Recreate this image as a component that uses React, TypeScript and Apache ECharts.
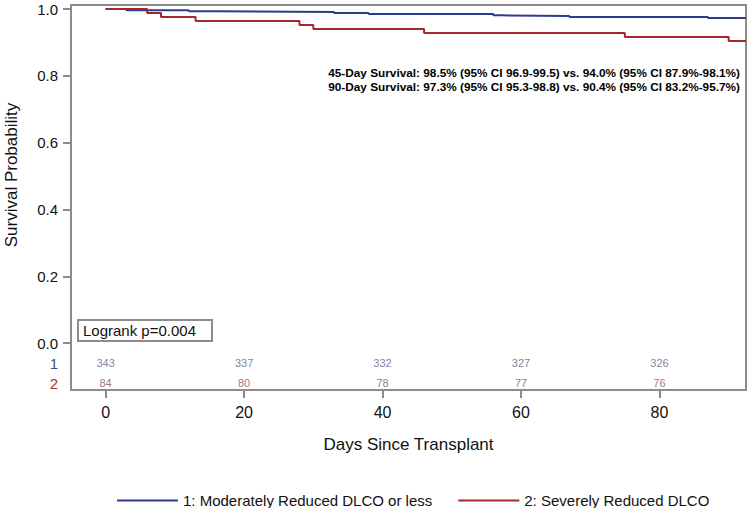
import React, { useEffect, useRef } from "react";
import * as echarts from "echarts";

// Kaplan-Meier step data [day, survival]
const group1Curve: [number, number][] = [
  [0, 1.0], [3, 0.996], [12, 0.993], [16, 0.991], [33, 0.988], [38, 0.985],
  [56, 0.981], [57, 0.979], [67, 0.976], [87, 0.973], [92.5, 0.973],
];
const group2Curve: [number, number][] = [
  [0, 1.0], [6, 0.988], [8, 0.976], [13, 0.964], [28, 0.952], [30, 0.94],
  [46, 0.928], [75, 0.916], [90, 0.904], [92.5, 0.904],
];
const seriesNames = ["1: Moderately Reduced DLCO or less", "2: Severely Reduced DLCO"];
const riskDays = [0, 20, 40, 60, 80];
const riskGroup1 = [343, 337, 332, 327, 326];
const riskGroup2 = [84, 80, 78, 77, 76];
const riskRowLabels = ["1", "2"];
const riskRowY = [-0.06, -0.12];
const yTicks = [0, 0.2, 0.4, 0.6, 0.8, 1.0];
const xTicks = [0, 20, 40, 60, 80];
const annotationLines = [
  "45-Day Survival: 98.5% (95% CI 96.9-99.5) vs. 94.0% (95% CI 87.9%-98.1%)",
  "90-Day Survival: 97.3% (95% CI 95.3-98.8) vs. 90.4% (95% CI 83.2%-95.7%)",
];
const logrankText = "Logrank p=0.004";

const BLUE = "#2e3a8c";
const RED = "#a3282a";
const GRAY = "#8c8c8c";
const FONT = "'Liberation Sans', Arial, sans-serif";

export default function App() {
  const ref = useRef<HTMLDivElement>(null);
  useEffect(() => {
    if (!ref.current) return;
    const chart = echarts.init(ref.current, undefined, { renderer: "svg" });
    const riskData1 = riskDays.map((d, i) => [d, riskRowY[0], riskGroup1[i]]);
    const riskData2 = riskDays.map((d, i) => [d, riskRowY[1], riskGroup2[i]]);
    chart.setOption({
      animation: false,
      textStyle: { fontFamily: FONT },
      grid: {
        left: 71, right: 4, top: 5, bottom: 118,
        show: true, borderColor: GRAY, borderWidth: 2, backgroundColor: "transparent",
      },
      legend: {
        left: 112, top: 488,
        itemWidth: 61, itemHeight: 2, itemGap: 26,
        icon: "rect",
        textStyle: { fontSize: 15, color: "#111", fontFamily: FONT },
        data: seriesNames,
      },
      xAxis: {
        type: "value", min: -5, max: 92.5,
        name: "Days Since Transplant", nameLocation: "middle", nameGap: 46,
        nameTextStyle: { fontSize: 17, color: "#111" },
        axisLine: { show: true, onZero: false, lineStyle: { color: GRAY, width: 2 } },
        axisTick: { show: true, length: 8, customValues: xTicks, lineStyle: { color: GRAY, width: 2 } },
        axisLabel: { customValues: xTicks, margin: 14, fontSize: 16, color: "#111" },
        splitLine: { show: false },
      },
      yAxis: {
        type: "value", min: -0.14, max: 1.012,
        axisLine: { show: true, onZero: false, lineStyle: { color: GRAY, width: 2 } },
        axisTick: { show: true, length: 8, customValues: yTicks, lineStyle: { color: GRAY, width: 2 } },
        axisLabel: {
          customValues: [...yTicks, ...riskRowY],
          margin: 13, fontSize: 15, color: "#111",
          formatter: (v: number) => {
            const idx = riskRowY.findIndex((r) => Math.abs(r - v) < 1e-6);
            if (idx === 0) return "{a|" + riskRowLabels[0] + "}";
            if (idx === 1) return "{b|" + riskRowLabels[1] + "}";
            return v.toFixed(1);
          },
          rich: {
            a: { color: "#3b4a8a", fontSize: 15, fontFamily: FONT },
            b: { color: "#9a3a2e", fontSize: 15, fontFamily: FONT },
          },
        },
        splitLine: { show: false },
      },
      graphic: [
        {
          type: "text", x: 11, y: 175, rotation: Math.PI / 2,
          style: {
            text: "Survival Probability", fontSize: 17, fill: "#111", fontFamily: FONT,
            align: "center", verticalAlign: "middle",
          },
        },
        {
          type: "text", right: 10, top: 66,
          style: {
            text: annotationLines.join("\n"), fontSize: 11.8, fontWeight: "bold",
            fill: "#000", fontFamily: FONT, lineHeight: 14, align: "right",
          },
        },
        {
          type: "rect", shape: { x: 78, y: 320, width: 134, height: 21 },
          style: { fill: "#fff", stroke: GRAY, lineWidth: 2 },
        },
        {
          type: "text", x: 83, y: 330.5,
          style: { text: logrankText, fontSize: 15, fill: "#111", fontFamily: FONT, verticalAlign: "middle" },
        },
      ],
      series: [
        {
          name: seriesNames[0], type: "line", step: "end", data: group1Curve,
          showSymbol: false, symbol: "none", color: BLUE,
          lineStyle: { color: BLUE, width: 2 },
        },
        {
          name: seriesNames[1], type: "line", step: "end", data: group2Curve,
          showSymbol: false, symbol: "none", color: RED,
          lineStyle: { color: RED, width: 2 },
        },
        {
          type: "scatter", data: riskData1, symbolSize: 1,
          itemStyle: { color: "transparent" }, silent: true,
          label: { show: true, position: "inside", fontSize: 11, color: "#5a5f80",
            formatter: (p: any) => String(p.value[2]) },
        },
        {
          type: "scatter", data: riskData2, symbolSize: 1,
          itemStyle: { color: "transparent" }, silent: true,
          label: { show: true, position: "inside", fontSize: 11, color: "#8a5050",
            formatter: (p: any) => String(p.value[2]) },
        },
      ],
    });
    return () => chart.dispose();
  }, []);
  return <div ref={ref} style={{ width: 750, height: 508, position: "absolute", left: 0, top: 0 }} />;
}
